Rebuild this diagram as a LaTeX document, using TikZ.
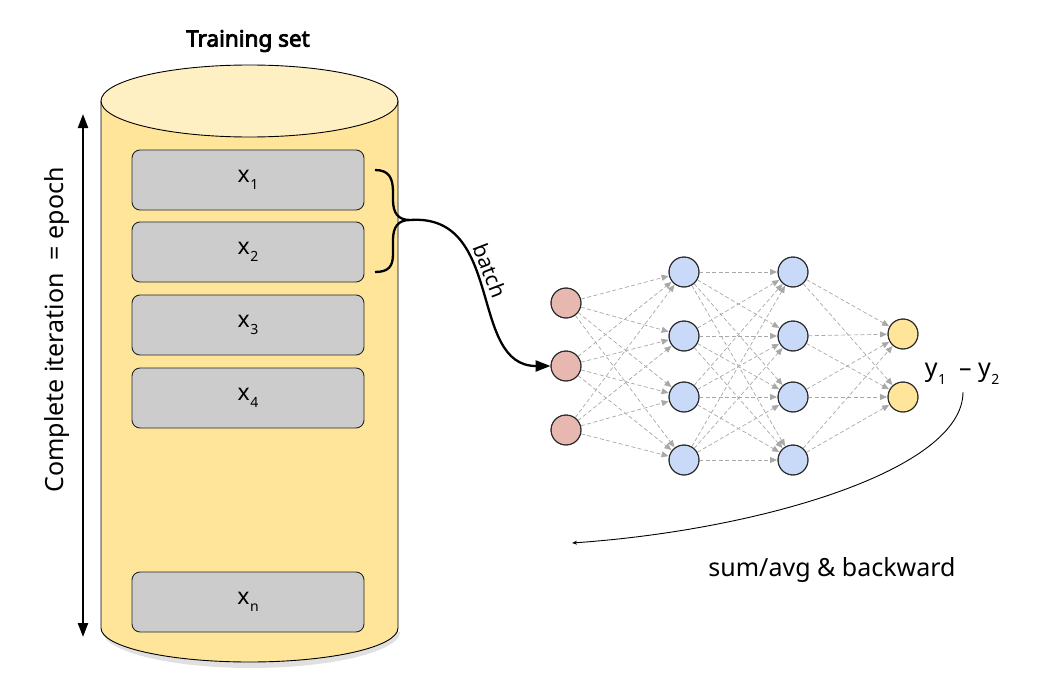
\documentclass[tikz,border=0pt]{standalone}
\usepackage{fontspec}
\setmainfont{Noto Sans}
\newfontfamily\titlefont{Noto Sans}[FakeBold=3.5]
\usetikzlibrary{arrows.meta}
\definecolor{cylbody}{HTML}{FFE599}
\definecolor{cyltop}{HTML}{FFF0C4}
\definecolor{boxfill}{HTML}{CCCCCC}
\definecolor{infill}{HTML}{E6B8AF}
\definecolor{hidfill}{HTML}{C9DAF8}
\definecolor{outfill}{HTML}{FFE599}
\definecolor{edgegray}{HTML}{A8A8A8}
\newcommand\subidx[1]{\kern0.5pt\raisebox{-0.6ex}{\fontsize{14}{14}\selectfont #1}}
\begin{document}
\begin{tikzpicture}[x=1pt,y=-1pt,
  sample/.style={draw=black!85, line width=0.9pt, fill=boxfill, rounded corners=8pt,
    minimum width=232pt, minimum height=60pt, inner sep=0pt, font=\fontsize{23}{26}\selectfont},
  neuron/.style={circle, draw=black!85, line width=0.9pt, minimum size=30pt, inner sep=0pt},
  innode/.style={neuron, fill=infill},
  hidnode/.style={neuron, fill=hidfill},
  outnode/.style={neuron, fill=outfill},
  nnedge/.style={draw=edgegray, line width=0.7pt, dash pattern=on 4pt off 2.5pt,
    -{Triangle[length=7pt,width=6pt,fill=edgegray]}, shorten >=0.5pt},
  bold line/.style={line width=2.3pt, draw=black},
  label text/.style={font=\fontsize{25}{29}\selectfont}
]
\useasboundingbox (0,0) rectangle (1052,677);

% cylinder
\path[fill=black!12] (103,632) .. controls (103,651) and (169,668) .. (251,668)
  .. controls (333,668) and (400,651) .. (400,632) -- cycle;
\draw[fill=cylbody, line width=0.9pt] (101,101) -- (101,628)
  .. controls (101,646.8) and (167.5,662) .. (249.5,662)
  .. controls (331.5,662) and (398,646.8) .. (398,628) -- (398,101);
\draw[fill=cyltop, line width=0.9pt] (249.5,101) ellipse [x radius=148.5pt, y radius=36pt];
\node[font=\titlefont\fontsize{22.5}{26}\selectfont] (title) at (248,41) {Training set};

% samples
\node[sample] (x1) at (248,180) {x\subidx{1}};
\node[sample] (x2) at (248,252) {x\subidx{2}};
\node[sample] (x3) at (248,325) {x\subidx{3}};
\node[sample] (x4) at (248,398) {x\subidx{4}};
\node[sample] (xn) at (248,602) {x\subidx{n}};

% epoch arrow
\coordinate (etop) at (83,114);
\coordinate (ebot) at (83,637);
\draw[line width=2.2pt, {Triangle[length=14pt,width=10pt]}-{Triangle[length=14pt,width=10pt]}] (etop) -- (ebot);
\node[label text, rotate=90] (epoch) at (57,330) {Complete iteration\ \ = epoch};

% network
\node[innode] (i1) at (566,303) {};
\node[innode] (i2) at (566,366) {};
\node[innode] (i3) at (566,430) {};
\foreach \k/\yy in {1/272,2/336,3/397,4/460}{
  \node[hidnode] (a\k) at (684,\yy) {};
  \node[hidnode] (b\k) at (793,\yy) {};
}
\node[outnode] (o1) at (903,334) {};
\node[outnode] (o2) at (903,397) {};
\foreach \i in {1,2,3}{\foreach \j in {1,2,3,4}{\path[nnedge] (i\i) -- (a\j);}}
\foreach \i in {1,2,3,4}{\foreach \j in {1,2,3,4}{\path[nnedge] (a\i) -- (b\j);}}
\foreach \i in {1,2,3,4}{\foreach \j in {1,2}{\path[nnedge] (b\i) -- (o\j);}}
\foreach \n in {i1,i2,i3,a1,a2,a3,a4,b1,b2,b3,b4,o1,o2}{\draw[line width=0.9pt, draw=black!85] (\n) circle (15pt);}

% brace and batch
\coordinate (bt) at (375,170);
\coordinate (bb) at (375,272);
\coordinate (tip) at (410,220);
\draw[bold line] (bt) .. controls (389,170) and (393,178) .. (393,192) -- (393,200)
  .. controls (393,213) and (398,220) .. (tip)
  .. controls (398,220) and (393,227) .. (393,240) -- (393,254)
  .. controls (393,266) and (389,272) .. (bb);
\draw[bold line, -{Triangle[length=15pt,width=11pt]}] (tip) .. controls (505,213) and (468,366) .. (i2.west)
  node[pos=0.43, sloped, above, inner sep=2.5pt, font=\fontsize{21}{24}\selectfont] (batch) {batch};

% output label and backward
\node[label text] (y) at (962,374) {y\subidx{1}\ \ – y\subidx{2}};
\coordinate (bs) at (963,392);
\coordinate (be) at (572,543);
\draw[line width=0.9pt, -{Stealth[length=5pt,width=4pt]}] (bs) .. controls (963,470) and (760,530) .. (be);
\node[label text] (back) at (832,570) {sum/avg \& backward};
\end{tikzpicture}
\end{document}
